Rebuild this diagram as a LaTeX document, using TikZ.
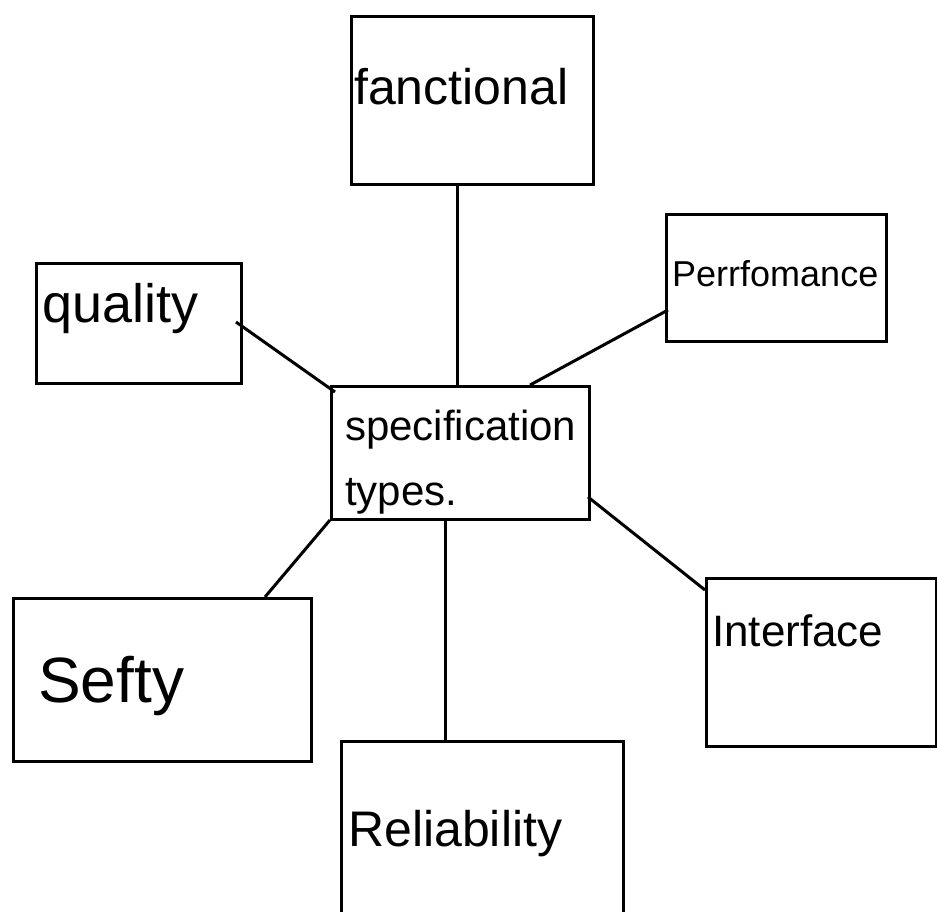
\documentclass[tikz,border=0pt]{standalone}
\usepackage{fontspec}
\setmainfont{Liberation Sans}
\begin{document}
\begin{tikzpicture}[x=1pt,y=-1pt,
  box/.style={draw=black,line width=3pt,inner sep=0pt,anchor=north west},
  lbl/.style={inner sep=0pt,anchor=base west,text=black},
  link/.style={draw=black,line width=3pt}]
\useasboundingbox[fill=white] (0,0) rectangle (937,911);
% boxes
\node[box,minimum width=242pt,minimum height=168pt] (func) at (350,15) {};
\node[box,minimum width=220pt,minimum height=127pt] (perf) at (665,213) {};
\node[box,minimum width=205pt,minimum height=120pt] (qual) at (35,262) {};
\node[box,minimum width=258pt,minimum height=133pt] (spec) at (330,385) {};
\node[box,minimum width=298pt,minimum height=163pt] (safe) at (12,597) {};
\node[box,minimum width=230pt,minimum height=168pt] (intf) at (705,577) {};
\node[box,minimum width=282pt,minimum height=175pt] (rel) at (340,740) {};
% labels
\node[lbl,font=\fontsize{50}{54}\selectfont] (funct) at (354,104) {fanctional};
\node[lbl,font=\fontsize{36}{40}\selectfont] (perft) at (672,286) {Perrfomance};
\node[lbl,font=\fontsize{54}{58}\selectfont] (qualt) at (42,322) {quality};
\node[lbl,font=\fontsize{42}{46}\selectfont] (spect1) at (345,440) {specification};
\node[lbl,font=\fontsize{42}{46}\selectfont] (spect2) at (345,505) {types.};
\node[lbl,font=\fontsize{64}{68}\selectfont] (safet) at (38,702) {Sefty};
\node[lbl,font=\fontsize{44}{48}\selectfont] (intft) at (712,646) {Interface};
\node[lbl,font=\fontsize{50}{54}\selectfont] (relt) at (348,846) {Reliability};
% connector points
\coordinate (fb) at (457,183);
\coordinate (st) at (457,385);
\coordinate (qr) at (236,322);
\coordinate (sq) at (335,392);
\coordinate (pl) at (668,310);
\coordinate (sp) at (530,385);
\coordinate (sbl) at (330,520);
\coordinate (saft) at (265,597);
\coordinate (sb) at (445,518);
\coordinate (relt0) at (445,740);
\coordinate (sr) at (588,497);
\coordinate (intl) at (705,590);
\draw[link] (fb) -- (st);
\draw[link] (qr) -- (sq);
\draw[link] (pl) -- (sp);
\draw[link] (sbl) -- (saft);
\draw[link] (sb) -- (relt0);
\draw[link] (sr) -- (intl);
\end{tikzpicture}
\end{document}
